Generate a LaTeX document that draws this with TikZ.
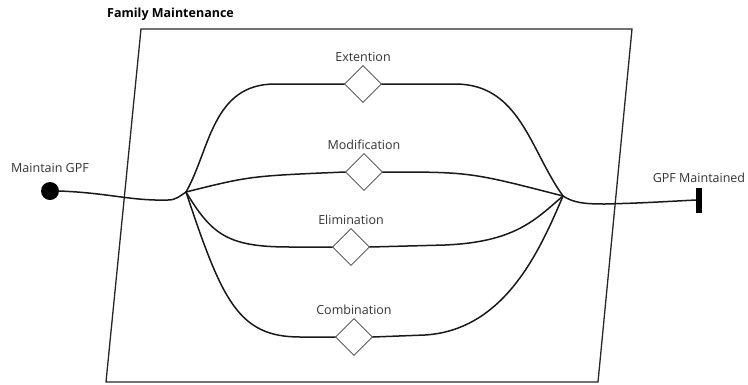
\documentclass[tikz,border=0pt]{standalone}
\usepackage{fontspec}
\setmainfont{Open Sans}
\usetikzlibrary{shapes.geometric, positioning}

\begin{document}
\begin{tikzpicture}[
        x=1pt, y=-1pt,
        gate/.style={diamond, draw=black!75, thick, fill=white, minimum size=37pt, inner sep=0pt},
        lbl/.style={font=\fontsize{12.5}{14}\selectfont, text=black!80, inner sep=1pt},
        flow/.style={draw=black!90, line width=1.5pt, line cap=round},
        frame/.style={draw=black!85, line width=1.3pt}
    ]
        \useasboundingbox (0,0) rectangle (748,384);
        % the family maintenance area
        \draw[frame] (141,29) -- (632,29) -- (598,382) -- (106,382) -- cycle;
        \node[anchor=west, font=\fontsize{12.5}{14}\selectfont\bfseries, inner sep=0pt] (title) at (107,14) {Family Maintenance};
        % start and end
        \node[circle, fill=black, minimum size=18pt, inner sep=0pt] (start) at (50,191) {};
        \node[rectangle, fill=black, minimum width=6pt, minimum height=25pt, inner sep=0pt] (stop) at (699,200) {};
        \node[lbl, above=8pt of start] (startlbl) {Maintain GPF};
        \node[lbl, above=3pt of stop] (stoplbl) {GPF Maintained};
        \coordinate (jl) at (186,192);
        \coordinate (jr) at (563,196);
        % the four alternatives
        \node[gate] (ext) at (363,84) {};
        \node[gate] (mod) at (364,172) {};
        \node[gate] (eli) at (351,247) {};
        \node[gate] (com) at (354,337) {};
        \node[lbl, above=2pt of ext] {Extention};
        \node[lbl, above=2pt of mod] {Modification};
        \node[lbl, above=2pt of eli] {Elimination};
        \node[lbl, above=2pt of com] {Combination};
        % connectors
        \draw[flow] (start.east) .. controls (110,193) and (130,201) .. (168,200) .. controls (176,200) and (180,196) .. (jl);
        \draw[flow] (jr) .. controls (574,203) and (585,204) .. (605,204) .. controls (640,203) .. (stop.west);
        \draw[flow] (jl) .. controls (210,150) and (212,84) .. (275,84) -- (ext.west);
        \draw[flow] (ext.east) -- (455,84) .. controls (520,84) and (530,150) .. (jr);
        \draw[flow] (jl) .. controls (250,176) .. (mod.west);
        \draw[flow] (mod.east) .. controls (470,172) .. (jr);
        \draw[flow] (jl) .. controls (212,235) and (228,247) .. (290,247) -- (eli.west);
        \draw[flow] (eli.east) -- (445,245) .. controls (515,242) and (535,220) .. (jr);
        \draw[flow] (jl) .. controls (222,300) and (238,337) .. (300,337) -- (com.west);
        \draw[flow] (com.east) -- (425,335) .. controls (505,330) and (540,250) .. (jr);
    \end{tikzpicture}
\end{document}
